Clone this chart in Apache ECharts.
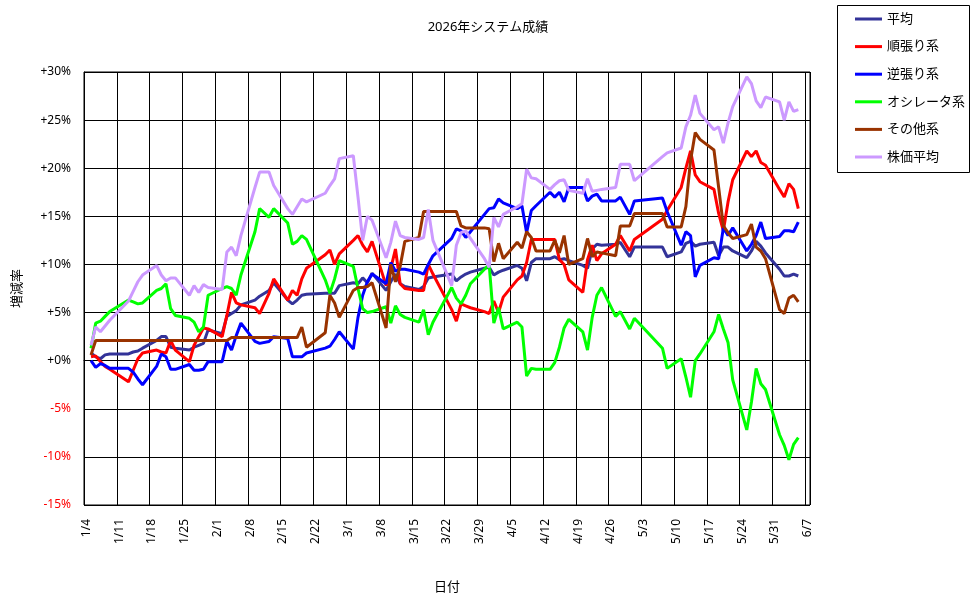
<!DOCTYPE html>
<html>
<head>
<meta charset="utf-8">
<script src="https://cdn.jsdelivr.net/npm/echarts@6/dist/echarts.min.js"></script>
<style>
  html, body { margin: 0; padding: 0; background: #fff; }
  #chart { width: 976px; height: 599px; }
</style>
</head>
<body>
<div id="chart"></div>
<script>
// 日付軸の範囲 (1日単位のカテゴリ)
const axisStart = '2026-01-04';
const axisEnd = '2026-06-07';

// 取引日
const tradeDays = [
  '1/5','1/6','1/7','1/8','1/9','1/13','1/14','1/15','1/16','1/19','1/20','1/21','1/22','1/23','1/26','1/27','1/28','1/29','1/30',
  '2/2','2/3','2/4','2/5','2/6','2/9','2/10','2/12','2/13','2/16','2/17','2/18','2/19','2/20','2/24','2/25','2/26','2/27',
  '3/2','3/3','3/4','3/5','3/6','3/9','3/10','3/11','3/12','3/13','3/16','3/17','3/18','3/19','3/23','3/24','3/25','3/26','3/27','3/30','3/31',
  '4/1','4/2','4/3','4/6','4/7','4/8','4/9','4/10','4/13','4/14','4/15','4/16','4/17','4/20','4/21','4/22','4/23','4/24','4/27','4/28','4/30',
  '5/1','5/7','5/8','5/11','5/12','5/13','5/14','5/15','5/18','5/19','5/20','5/21','5/22','5/25','5/26','5/27','5/28','5/29',
  '6/1','6/2','6/3','6/4','6/5'
];

// 増減率 (%)
const heikin = [
  0.8,0.4,0.2,0.6,0.7, 0.7,0.9,1.0,1.3, 2.1,2.5,2.5,1.4,1.3, 1.1,1.4,1.6,1.8,3.2,
  2.8,4.6,4.9,5.2,5.8, 6.3,6.7,7.3,8.1, 6.3,5.9,6.3,6.8,6.9, 7.0,7.0,7.0,7.8,
  8.1,8.0,8.6,8.1,9.1, 7.3,8.2,9.0,8.0,7.7, 7.4,7.7,8.6,8.7, 9.0,8.3,8.7,9.0,9.2, 9.6,9.7,
  8.9,9.2,9.4, 9.9,9.6,8.3,10.2,10.6, 10.6,10.8,10.5,10.6,10.4, 9.9,9.6,11.6,12.1,12.0, 12.1,12.3,10.8,
  11.8, 11.8,10.8, 11.3,12.2,12.4,11.9,12.1, 12.3,10.9,11.8,11.8,11.4, 10.7,11.4,12.4,11.9,11.2,
  9.5,8.8,8.8,9.0,8.8
];
const junbari = [
  0.4,0.5,-0.1,-0.6,-0.9, -2.2,-1.0,0.2,0.8, 1.1,0.9,0.8,2.1,1.1, -0.1,1.6,2.5,3.4,3.3,
  2.5,4.7,7.1,6.0,5.8, 5.5,4.9,7.0,8.5, 6.3,7.3,6.8,8.5,9.6, 11.0,11.5,10.0,11.1,
  12.5,13.0,12.0,11.3,12.4, 7.8,9.6,11.6,8.0,7.5, 7.3,7.3,10.0,9.0, 5.3,4.1,5.9,5.7,5.5, 5.1,4.9,
  6.2,5.0,6.6, 8.4,8.8,10.2,12.6,12.6, 12.6,12.6,10.5,10.0,8.4, 7.1,10.5,12.0,10.4,11.1, 12.1,13.0,11.4,
  12.6, 14.7,15.6, 18.0,20.0,21.8,19.3,18.6, 17.8,15.3,13.5,16.5,18.8, 21.8,21.2,21.8,20.6,20.3,
  17.8,17.0,18.4,17.8,15.8
];
const gyakubari = [
  0.0,-0.7,-0.3,-0.5,-0.8, -0.8,-1.2,-1.9,-2.5, -0.6,0.7,0.4,-0.9,-0.9, -0.4,-1.0,-1.0,-0.9,-0.1,
  -0.1,2.0,1.1,2.6,3.9, 2.0,1.8,2.0,2.5, 2.3,0.4,0.4,0.4,0.8, 1.3,1.5,2.2,3.0,
  1.2,4.5,6.8,8.2,9.0, 8.0,10.2,9.3,9.5,9.5, 9.2,9.0,10.0,10.9, 12.7,13.7,13.5,12.8,13.4, 15.2,15.8,
  15.9,16.8,16.4, 15.8,16.1,13.3,15.6,16.1, 17.5,17.0,17.5,16.5,18.0, 18.0,16.6,17.1,17.3,16.6, 16.6,17.0,15.2,
  16.6, 16.9,15.5, 12.0,13.4,13.0,8.7,9.9, 10.7,10.6,13.8,13.0,13.8, 11.4,12.1,13.0,14.4,12.7,
  12.9,13.5,13.5,13.4,14.4
];
const oscillator = [
  1.3,3.9,4.1,4.6,5.1, 6.3,6.1,5.9,6.0, 7.3,7.5,8.0,5.4,4.7, 4.4,4.0,3.0,3.5,6.8,
  7.5,7.7,7.5,6.8,8.9, 13.4,15.8,14.9,15.8, 14.3,12.1,12.4,13.0,12.6, 8.4,7.0,8.5,10.4,
  9.8,7.5,5.4,5.0,5.1, 5.6,3.9,5.7,4.8,4.5, 4.0,5.3,2.7,4.0, 7.6,6.5,5.9,6.8,8.0, 9.5,10.0,
  3.9,5.5,3.3, 4.0,3.5,-1.6,-0.8,-0.9, -0.9,-0.2,1.4,3.4,4.3, 3.0,1.1,4.5,6.8,7.6, 4.6,5.1,3.3,
  4.4, 1.3,-0.8, 0.2,-1.7,-3.8,0.0,0.7, 3.0,4.8,3.3,1.9,-2.0, -7.2,-4.3,-0.8,-2.4,-3.0,
  -7.7,-8.8,-10.3,-8.7,-8.0
];
const sonota = [
  0.6,2.1,2.1,2.1,2.1, 2.1,2.1,2.1,2.1, 2.1,2.1,2.1,2.1,2.1, 2.1,2.1,2.1,2.1,2.1,
  2.1,2.1,2.4,2.4,2.4, 2.4,2.4,2.4,2.4, 2.4,2.4,2.4,3.5,1.4, 2.9,6.8,6.0,4.5,
  7.3,7.6,7.6,7.7,8.1, 3.4,10.0,8.2,9.8,12.4, 12.8,15.5,15.5,15.5, 15.5,15.5,14.0,13.8,13.8, 13.8,13.7,
  10.3,12.2,10.6, 12.3,11.7,13.4,12.8,11.4, 11.4,12.5,11.2,13.0,10.0, 10.6,12.7,10.8,11.3,11.2, 10.9,14.0,14.0,
  15.3, 15.3,13.9, 13.9,16.0,20.8,23.7,23.0, 21.9,18.0,14.0,13.3,12.7, 13.1,14.2,11.8,11.4,10.6,
  5.3,4.9,6.5,6.8,6.1
];
const kabuka = [
  1.6,3.5,3.0,3.6,4.2, 6.2,7.2,8.2,8.9, 9.9,8.9,8.3,8.6,8.6, 6.8,7.8,7.1,7.9,7.6,
  7.4,11.3,11.8,10.9,13.0, 18.0,19.6,19.6,18.2, 15.8,15.2,16.0,16.8,16.5, 17.4,18.2,18.9,21.0,
  21.3,17.0,12.5,15.0,14.6, 10.7,12.3,14.5,13.0,12.8, 12.6,12.8,15.7,12.5, 7.8,12.0,13.3,13.5,12.7, 10.6,9.7,
  14.9,13.9,15.2, 16.0,16.3,19.9,19.0,18.9, 17.8,18.3,18.7,18.8,17.7, 17.4,18.9,17.6,17.7,17.8, 18.0,20.4,20.4,
  18.7, 21.2,21.6, 22.1,24.3,25.5,27.6,25.7, 24.0,24.3,22.6,24.7,26.4, 29.5,28.8,27.0,26.3,27.4,
  26.9,25.0,26.9,25.9,26.1
];

const seriesNames = ['平均', '順張り系', '逆張り系', 'オシレータ系', 'その他系', '株価平均'];
const seriesValues = [heikin, junbari, gyakubari, oscillator, sonota, kabuka];
const seriesColors = ['#333399', '#ff0000', '#0000ff', '#00ff00', '#993300', '#cc99ff'];

// カテゴリ (1/4 〜 6/7 の全日付)
const categories = [];
for (let d = new Date(axisStart + 'T00:00:00'); d <= new Date(axisEnd + 'T00:00:00'); d.setDate(d.getDate() + 1)) {
  categories.push((d.getMonth() + 1) + '/' + d.getDate());
}

const FONT = '"Noto Sans", "Noto Sans CJK JP", sans-serif';

const chart = echarts.init(document.getElementById('chart'));

const option = {
  animation: false,
  backgroundColor: '#fff',
  textStyle: { fontFamily: FONT, color: '#000' },
  title: {
    text: '2026年システム成績',
    left: 'center',
    top: 21,
    padding: 0,
    textStyle: { fontFamily: FONT, fontSize: 13, fontWeight: 'normal', color: '#000' }
  },
  legend: {
    orient: 'vertical',
    left: 855,
    top: 12,
    padding: 0,
    itemWidth: 27,
    itemHeight: 3,
    itemGap: 13.6,
    icon: 'rect',
    selectedMode: false,
    data: seriesNames,
    textStyle: { fontFamily: FONT, fontSize: 13, color: '#000', lineHeight: 14 }
  },
  graphic: [{
    type: 'rect',
    shape: { x: 837.5, y: 5.5, width: 132, height: 167 },
    style: { fill: 'none', stroke: '#000', lineWidth: 1 },
    z: 100
  }],
  grid: {
    left: 84,
    top: 72,
    width: 726,
    height: 435,
    show: true,
    borderColor: '#000',
    borderWidth: 1,
    backgroundColor: '#fff'
  },
  xAxis: {
    type: 'category',
    data: categories,
    boundaryGap: true,
    name: '日付',
    nameLocation: 'middle',
    nameGap: 76,
    nameTextStyle: { fontFamily: FONT, fontSize: 13, color: '#000' },
    axisLine: { lineStyle: { color: '#000' } },
    axisTick: { show: false },
    axisLabel: {
      interval: 6,
      rotate: 90,
      margin: 14,
      fontSize: 12,
      fontFamily: FONT,
      color: '#000'
    },
    splitLine: { show: true, interval: 6, lineStyle: { color: '#000', width: 1 } }
  },
  yAxis: {
    type: 'value',
    min: -15,
    max: 30,
    interval: 5,
    name: '増減率',
    nameLocation: 'middle',
    nameGap: 60,
    nameRotate: 90,
    nameTextStyle: { fontFamily: FONT, fontSize: 13, color: '#000' },
    axisLine: { show: true, lineStyle: { color: '#000' } },
    axisTick: { show: false },
    axisLabel: {
      margin: 13,
      fontSize: 12,
      fontFamily: FONT,
      formatter: v => (v >= 0 ? '+' : '') + v + '%',
      color: v => (parseFloat(v) < 0 ? '#ff0000' : '#000')
    },
    splitLine: { show: true, lineStyle: { color: '#000', width: 1 } }
  },
  series: seriesNames.map((name, i) => ({
    name: name,
    type: 'line',
    data: tradeDays.map((day, j) => [day, seriesValues[i][j]]),
    showSymbol: false,
    symbol: 'none',
    color: seriesColors[i],
    lineStyle: { color: seriesColors[i], width: 3 },
    emphasis: { disabled: true }
  }))
};

chart.setOption(option);
</script>
</body>
</html>
